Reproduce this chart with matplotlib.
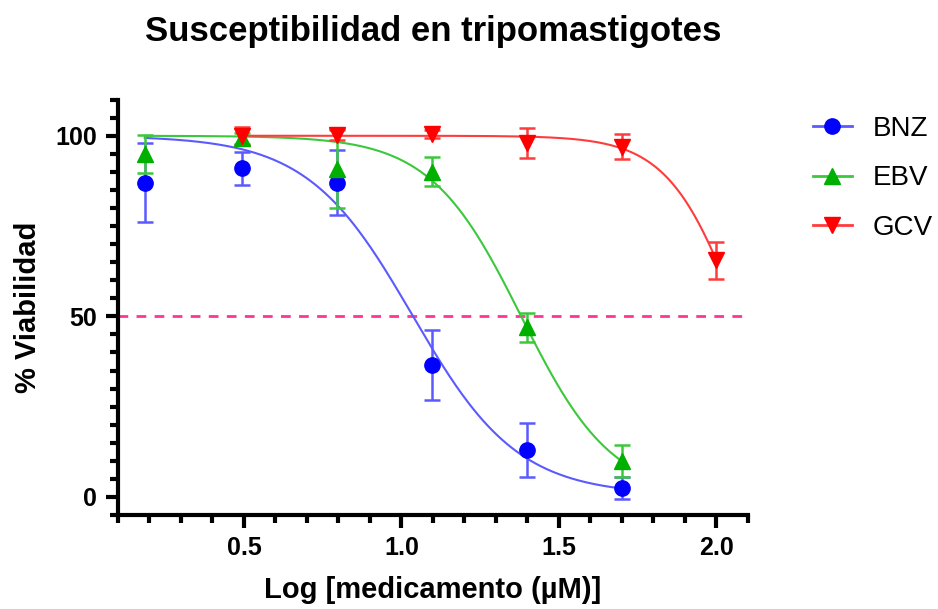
import numpy as np
import matplotlib
matplotlib.use("Agg")
import matplotlib.pyplot as plt
from matplotlib.lines import Line2D
from matplotlib.ticker import MultipleLocator

plt.rcParams["font.family"] = ["Liberation Sans", "DejaVu Sans"]

# data (log concentration, % viability, error)
bnz_x = [0.185, 0.495, 0.796, 1.097, 1.398, 1.699]
bnz_y = [87.0, 91.0, 87.0, 36.5, 13.0, 2.5]
bnz_err = [11.0, 4.5, 9.0, 9.7, 7.4, 3.0]

ebv_x = [0.185, 0.495, 0.796, 1.097, 1.398, 1.699]
ebv_y = [95.0, 99.3, 90.8, 90.0, 47.0, 10.0]
ebv_err = [5.3, 1.5, 10.8, 4.0, 4.0, 4.5]

gcv_x = [0.495, 0.796, 1.097, 1.398, 1.699, 2.0]
gcv_y = [100.0, 100.3, 100.5, 98.0, 97.0, 65.5]
gcv_err = [2.5, 1.5, 1.0, 4.2, 3.5, 5.2]

# fitted 4PL parameters: top, bottom, logIC50, hill
bnz_fit = (100.0, 0.5, 1.035, 2.6)
ebv_fit = (100.0, 0.0, 1.38, 3.0)
gcv_fit = (100.0, 0.0, 2.072, 3.86)

labels = ["BNZ", "EBV", "GCV"]


def curve(params, x):
    top, bottom, logic50, hill = params
    return bottom + (top - bottom) / (1 + 10 ** ((x - logic50) * hill))


fig = plt.figure(figsize=(9.38, 6.09), dpi=100)
ax = fig.add_axes([0.1258, 0.1544, 0.6716, 0.682])

series = [
    (bnz_x, bnz_y, bnz_err, bnz_fit, "#0000ff", "#5a5aff", "o"),
    (ebv_x, ebv_y, ebv_err, ebv_fit, "#00b000", "#3cc83c", "^"),
    (gcv_x, gcv_y, gcv_err, gcv_fit, "#ff0000", "#ff3c3c", "v"),
]

ax.axhline(50, color="#ff3399", ls=(0, (3.5, 3)), lw=2, zorder=1)

handles = []
for (x, y, err, fit, col, lcol, mk), lab in zip(series, labels):
    xs = np.linspace(x[0], x[-1], 300)
    ax.plot(xs, curve(fit, xs), color=lcol, lw=1.5, zorder=2)
    ax.errorbar(x, y, yerr=err, fmt="none", ecolor=lcol, elinewidth=1.8,
                capsize=6, capthick=1.8, zorder=3)
    ax.plot(x, y, mk, color=col, ms=11, mec=col, zorder=4)
    handles.append(Line2D([], [], color=lcol, lw=2, marker=mk, ms=11,
                          mfc=col, mec=col))

ax.set_xlim(0.1, 2.1)
ax.set_ylim(-5, 110)
ax.set_xticks([0.5, 1.0, 1.5, 2.0])
ax.xaxis.set_minor_locator(MultipleLocator(0.1))
ax.set_yticks([0, 50, 100])
ax.yaxis.set_minor_locator(MultipleLocator(5))

for s in ["top", "right"]:
    ax.spines[s].set_visible(False)
for s in ["left", "bottom"]:
    ax.spines[s].set_linewidth(3)
ax.tick_params(which="major", length=9, width=3, labelsize=18, pad=6)
ax.tick_params(which="minor", length=5.5, width=3)
for t in ax.get_xticklabels() + ax.get_yticklabels():
    t.set_fontweight("bold")

ax.set_xlabel("Log [medicamento (\u00b5M)]", fontsize=21, fontweight="bold", labelpad=12)
ax.set_ylabel("% Viabilidad", fontsize=21, fontweight="bold", labelpad=10)
fig.text(0.4616, 1 - 32 / 609, "Susceptibilidad en tripomastigotes", fontsize=25,
         fontweight="bold", ha="center", va="center")

fig.legend(handles, labels, loc="upper left", bbox_to_anchor=(0.8667, 0.81),
           frameon=False, fontsize=20, handlelength=1.4, labelspacing=0.85,
           handletextpad=0.75, borderpad=0, borderaxespad=0)

fig.savefig("out.png", dpi=100)
